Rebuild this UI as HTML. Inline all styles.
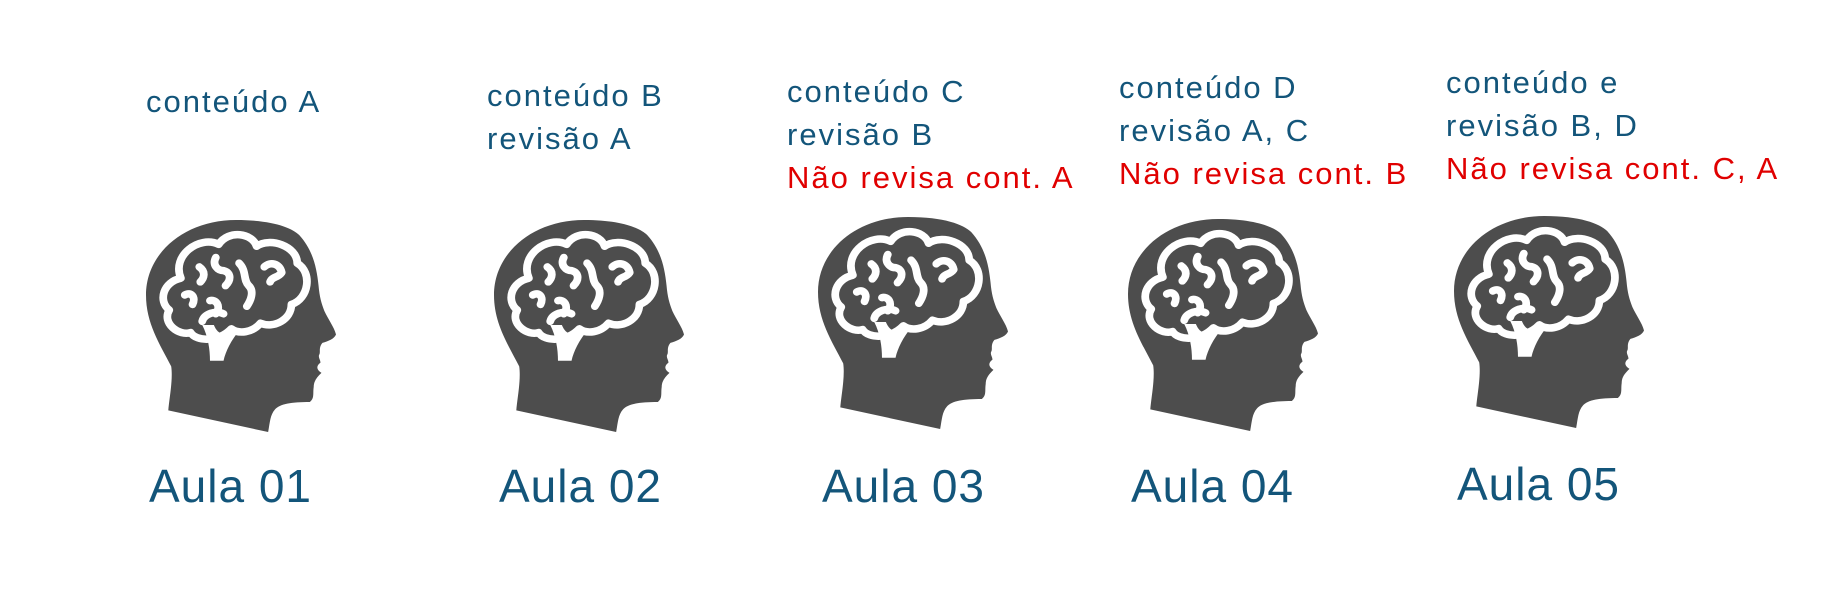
<!DOCTYPE html>
<html><head><meta charset="utf-8"><style>
html,body{margin:0;padding:0;background:#fff;}
body{width:1828px;height:611px;position:relative;overflow:hidden;font-family:"Liberation Sans",sans-serif;}
.t{position:absolute;font-size:31px;line-height:43px;color:#13557a;white-space:nowrap;letter-spacing:2px;}
.r{color:#e00000;}
.a{position:absolute;font-size:46px;color:#13557a;white-space:nowrap;line-height:46px;letter-spacing:1px;}
svg.h{position:absolute;width:190px;height:212px;}
</style></head><body>
<svg width="0" height="0" style="position:absolute">
<defs>
<g id="head">
<path d="M93,0 C130,0 150,8 158,16 C172,32 176,50 178,70 C179,82 181,89 184,97 C188,106 194,114 196,122 C194,127 188,129 182,131 C178,136 180,140 179,143 C177,146 180,149 180,152 C176,155 175,159 181,163 C176,168 173,172 173,178 C172,185 174,190 169,194 C150,194 138,196 133,202 C128,208 128,215 126,226 L23,203 C24,190 28,170 26,156 C14,132 0,110 0,80 C0,35 40,0 93,0 Z" fill="#4d4d4d"/>
<g fill="none" stroke="#fff" stroke-width="8" stroke-linecap="round" stroke-linejoin="round">
<path d="M36,62 C26,38 55,16 75,26 C85,10 110,14 114,28 C128,18 156,28 156,46 C172,56 168,84 150,90 C150,106 132,116 118,110 C110,120 96,122 88,116 C75,130 52,130 46,120 C34,124 16,110 24,96 C12,86 18,66 36,62 Z"/>
<path d="M55,50 C62,55 60,62 56,66 M72,40 C68,48 74,54 80,54 C88,56 88,64 82,70 M96,46 C104,54 100,64 106,70 C112,76 108,86 104,92 M122,50 C128,44 138,46 140,56 C136,62 130,60 128,66 M40,80 C46,76 52,82 48,90 M66,86 C72,84 78,92 72,100 M80,100 C72,96 60,100 58,108"/>
</g>
<path d="M58,112 L70,112 C74,122 80,124 88,116 L96,118 C88,128 82,140 80,150 L66,150 C66,138 64,124 58,112 Z" fill="#fff"/>
</g>
</defs>
</svg>

<div class="t" style="left:146px;top:80px;">conteúdo A</div>
<div class="t" style="left:487px;top:74px;">conteúdo B<br>revisão A</div>
<div class="t" style="left:787px;top:70px;">conteúdo C<br>revisão B<br><span class="r">Não revisa cont. A</span></div>
<div class="t" style="left:1119px;top:66px;">conteúdo D<br>revisão A, C<br><span class="r">Não revisa cont. B</span></div>
<div class="t" style="left:1446px;top:61px;">conteúdo e<br>revisão B, D<br><span class="r">Não revisa cont. C, A</span></div>

<svg class="h" style="left:146px;top:220px;" viewBox="0 0 196 226" preserveAspectRatio="none"><use href="#head"/></svg>
<svg class="h" style="left:494px;top:220px;" viewBox="0 0 196 226" preserveAspectRatio="none"><use href="#head"/></svg>
<svg class="h" style="left:818px;top:217px;" viewBox="0 0 196 226" preserveAspectRatio="none"><use href="#head"/></svg>
<svg class="h" style="left:1128px;top:219px;" viewBox="0 0 196 226" preserveAspectRatio="none"><use href="#head"/></svg>
<svg class="h" style="left:1454px;top:216px;" viewBox="0 0 196 226" preserveAspectRatio="none"><use href="#head"/></svg>

<div class="a" style="left:149px;top:463px;">Aula 01</div>
<div class="a" style="left:499px;top:463px;">Aula 02</div>
<div class="a" style="left:822px;top:463px;">Aula 03</div>
<div class="a" style="left:1131px;top:463px;">Aula 04</div>
<div class="a" style="left:1457px;top:461px;">Aula 05</div>
</body></html>
